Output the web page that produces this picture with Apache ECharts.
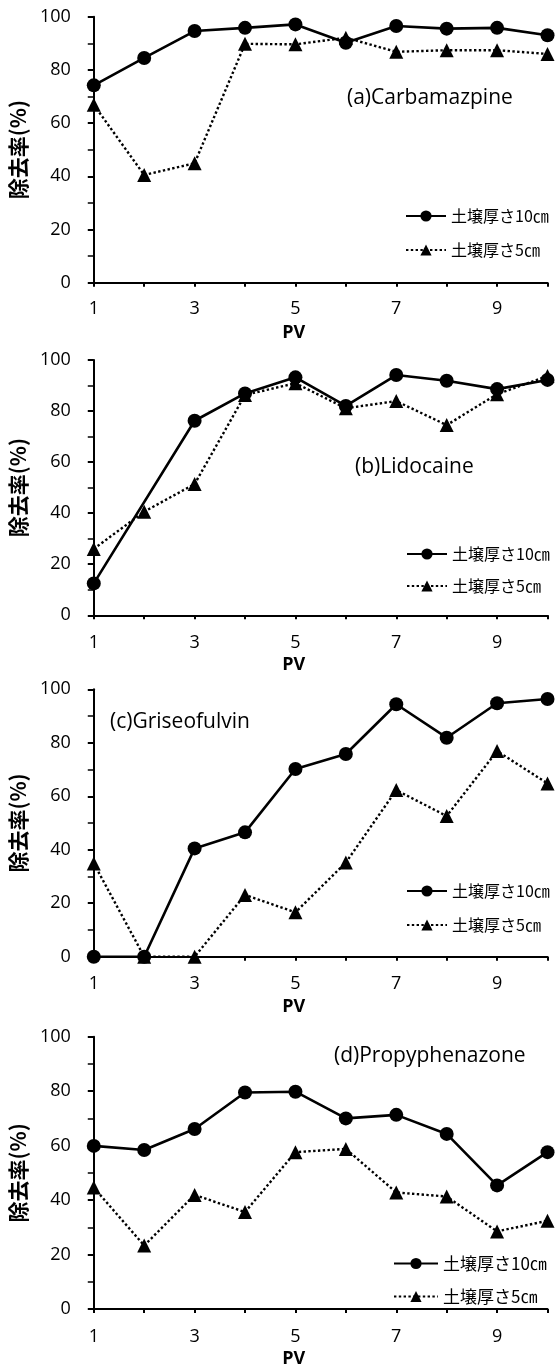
<!DOCTYPE html>
<html>
<head>
<meta charset="utf-8">
<script src="https://cdn.jsdelivr.net/npm/echarts@6/dist/echarts.min.js"></script>
<style>
  html, body { margin: 0; padding: 0; background: #fff; }
  #chart { width: 556px; height: 1369px; }
</style>
</head>
<body>
<div id="chart"></div>
<script>
// PV values on the x axis
const pv = [1, 2, 3, 4, 5, 6, 7, 8, 9, 10];
const pvLabels = [1, 3, 5, 7, 9];

// series names
const name10 = "土壌厚さ10㎝";
const name5 = "土壌厚さ5㎝";

// removal rate (%)
const carbamazepine10 = [74.2, 84.5, 94.6, 95.8, 97.1, 90.2, 96.5, 95.5, 95.8, 93.0];
const carbamazepine5 = [66.9, 40.5, 44.9, 89.8, 89.6, 92.1, 86.8, 87.4, 87.4, 86.0];
const lidocaine10 = [12.5, null, 76.2, 86.9, 93.2, 82.0, 94.1, 91.9, 88.6, 92.2];
const lidocaine5 = [26.0, 40.6, 51.4, 86.3, 90.9, 81.1, 83.9, 74.5, 86.6, 93.7];
const griseofulvin10 = [0, 0, 40.5, 46.5, 70.2, 75.8, 94.4, 81.9, 94.8, 96.4];
const griseofulvin5 = [34.9, 0, 0, 23.1, 16.6, 35.2, 62.3, 52.6, 76.9, 64.8];
const propyphenazone10 = [59.9, 58.4, 66.1, 79.5, 79.8, 70.0, 71.3, 64.3, 45.4, 57.6];
const propyphenazone5 = [44.6, 23.3, 41.9, 35.6, 57.6, 58.8, 42.8, 41.3, 28.5, 32.4];

const panelTitles = ["(a)Carbamazpine", "(b)Lidocaine", "(c)Griseofulvin", "(d)Propyphenazone"];
const panelData = [
  [carbamazepine10, carbamazepine5],
  [lidocaine10, lidocaine5],
  [griseofulvin10, griseofulvin5],
  [propyphenazone10, propyphenazone5],
];

// layout per panel (pixels)
const layout = [
  { top: 16.7, height: 266, titleLeft: 347, titleTop: 88, legendLeft: 405, legendTop: 208, legendGap: 18, legendFont: 16, legendW: 40, labelMargin: 17 },
  { top: 360, height: 255.3, titleLeft: 355, titleTop: 457, legendLeft: 406, legendTop: 546, legendGap: 16, legendFont: 16, legendW: 40, labelMargin: 19 },
  { top: 689.3, height: 267.4, titleLeft: 110, titleTop: 712, legendLeft: 406, legendTop: 883, legendGap: 18, legendFont: 16, legendW: 40, labelMargin: 18 },
  { top: 1036.7, height: 274, titleLeft: 334, titleTop: 1046, legendLeft: 393, legendTop: 1255, legendGap: 16, legendFont: 17, legendW: 44, labelMargin: 19 },
];

const latin = "'Open Sans', sans-serif";
const cjk = "'Noto Sans CJK JP', sans-serif";

const toPairs = (vals) => pv.map((x, i) => [x, vals[i]]);

const chart = echarts.init(document.getElementById("chart"), null, { renderer: "canvas" });

const grid = [], xAxis = [], yAxis = [], series = [], title = [], legend = [];

layout.forEach((l, i) => {
  grid.push({ left: 90.5, width: 457, top: l.top, height: l.height });

  xAxis.push({
    type: "value",
    gridIndex: i,
    min: 1,
    max: 10,
    interval: 1,
    splitLine: { show: false },
    axisLine: { show: true, onZero: false, lineStyle: { color: "#000", width: 2 } },
    axisTick: { show: true, length: 4, lineStyle: { color: "#000", width: 2 } },
    axisLabel: {
      color: "#000",
      fontSize: 18,
      fontFamily: latin,
      margin: l.labelMargin,
      formatter: (v) => (pvLabels.includes(v) ? String(v) : ""),
    },
    name: "PV",
    nameLocation: "middle",
    nameGap: 41,
    nameTextStyle: { color: "#000", fontSize: 18, fontWeight: "bold", fontFamily: latin, padding: [0, 54, 0, 0] },
  });

  yAxis.push({
    type: "value",
    gridIndex: i,
    min: 0,
    max: 100,
    interval: 20,
    splitLine: { show: false },
    axisLine: { show: true, lineStyle: { color: "#000", width: 2 } },
    axisTick: { show: true, length: 6, lineStyle: { color: "#000", width: 2 } },
    minorTick: { show: true, splitNumber: 2, length: 6, lineStyle: { color: "#000", width: 1.5 } },
    axisLabel: { color: "#000", fontSize: 18, fontFamily: latin, margin: 23 },
    name: "除去率(%)",
    nameLocation: "middle",
    nameGap: 53,
    nameTextStyle: { color: "#000", fontSize: 21, fontWeight: "bold", fontFamily: cjk },
  });

  series.push({
    type: "line",
    name: name10,
    xAxisIndex: i,
    yAxisIndex: i,
    data: toPairs(panelData[i][0]),
    connectNulls: true,
    symbol: "circle",
    symbolSize: 14,
    lineStyle: { color: "#000", width: 2.6 },
    itemStyle: { color: "#000" },
  });
  series.push({
    type: "line",
    name: name5,
    xAxisIndex: i,
    yAxisIndex: i,
    data: toPairs(panelData[i][1]),
    symbol: "triangle",
    symbolSize: 14,
    lineStyle: { color: "#000", width: 2.4, type: [2.4, 2.4] },
    itemStyle: { color: "#000" },
  });

  title.push({
    text: panelTitles[i],
    left: l.titleLeft,
    top: l.titleTop,
    padding: 0,
    textStyle: { color: "#000", fontSize: 21, fontWeight: "normal", fontFamily: latin },
  });

  legend.push({
    data: [name10, name5],
    orient: "vertical",
    left: l.legendLeft,
    top: l.legendTop,
    padding: 0,
    itemWidth: l.legendW,
    itemHeight: 14,
    itemGap: l.legendGap,
    selectedMode: false,
    textStyle: { color: "#000", fontSize: l.legendFont, fontFamily: cjk },
  });
});

chart.setOption({
  animation: false,
  backgroundColor: "#fff",
  title: title,
  legend: legend,
  grid: grid,
  xAxis: xAxis,
  yAxis: yAxis,
  series: series,
});
</script>
</body>
</html>
